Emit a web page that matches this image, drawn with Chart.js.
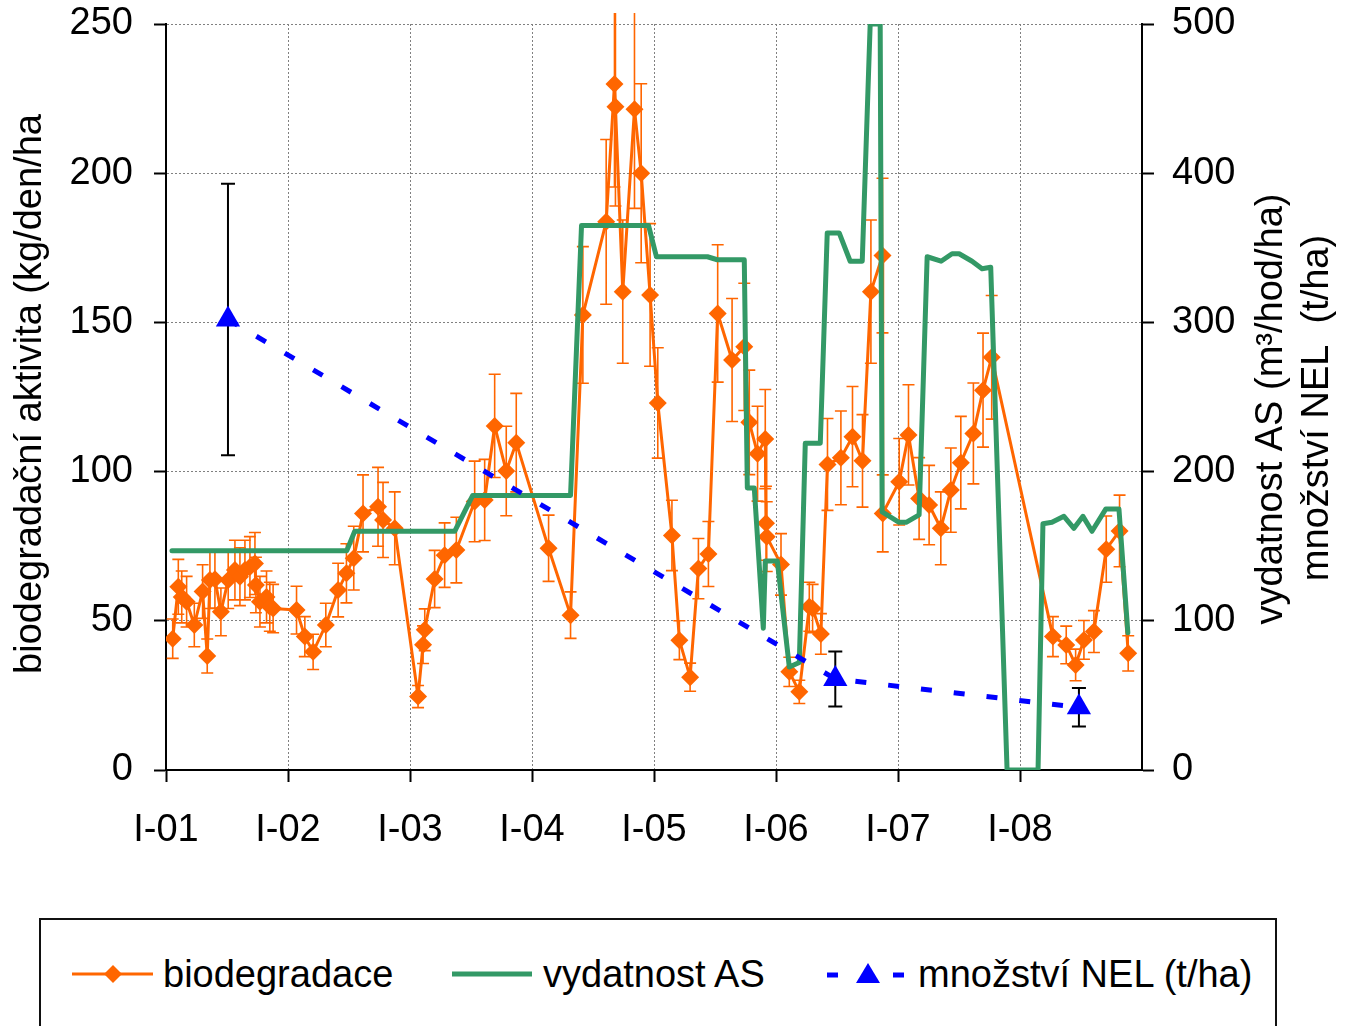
<!DOCTYPE html>
<html>
<head>
<meta charset="utf-8">
<script src="https://cdn.jsdelivr.net/npm/chart.js@4.4.1/dist/chart.umd.min.js"></script>
<style>
  html, body { margin: 0; padding: 0; background: #fff; overflow: hidden; }
  #wrap { position: relative; width: 1345px; height: 1026px; }
  #c { position: absolute; left: 0; top: 0; }
  .lg { position: absolute; font-family: "Liberation Sans", Arial, sans-serif; font-size: 38px; line-height: 38px; color: #000; white-space: pre; }
  #lgbox { position: absolute; left: 39px; top: 918px; width: 1238px; height: 160px; border: 2px solid #111; box-sizing: border-box; }
  #lgsvg { position: absolute; left: 0; top: 918px; }
</style>
</head>
<body>
<div id="wrap">
  <canvas id="c" width="1345" height="900"></canvas>
  <div id="lgbox"></div>
  <svg id="lgsvg" width="1345" height="108" xmlns="http://www.w3.org/2000/svg">
    <line x1="72" y1="56" x2="153" y2="56" stroke="#FF6600" stroke-width="3"/>
    <polygon points="113,47 122,56 113,65 104,56" fill="#FF6600"/>
    <line x1="452" y1="56" x2="532" y2="56" stroke="#339966" stroke-width="5"/>
    <line x1="827" y1="57" x2="838" y2="57" stroke="#0000FF" stroke-width="5"/>
    <line x1="893" y1="57" x2="904" y2="57" stroke="#0000FF" stroke-width="5"/>
    <polygon points="868,45 880,65 856,65" fill="#0000FF"/>
  </svg>
  <div class="lg" style="left:163px;top:955px;">biodegradace</div>
  <div class="lg" style="left:543px;top:955px;">vydatnost AS</div>
  <div class="lg" style="left:918px;top:955px;">množství NEL (t/ha)</div>
</div>
<script>
// ---- data (x in decimal years) ----
const yearTicks = [2001, 2002, 2003, 2004, 2005, 2006, 2007, 2008];
const tickLabels = ['I-01', 'I-02', 'I-03', 'I-04', 'I-05', 'I-06', 'I-07', 'I-08'];

const bioX = [2001.055, 2001.101, 2001.129, 2001.169, 2001.232, 2001.300, 2001.338, 2001.360, 2001.401, 2001.450,
  2001.510, 2001.565, 2001.606, 2001.647, 2001.688, 2001.729, 2001.737, 2001.770, 2001.824, 2001.851,
  2001.878, 2002.070, 2002.138, 2002.206, 2002.310, 2002.411, 2002.479, 2002.539, 2002.615, 2002.738,
  2002.779, 2002.875, 2003.066, 2003.107, 2003.121, 2003.202, 2003.284, 2003.380, 2003.530, 2003.612,
  2003.694, 2003.789, 2003.871, 2004.136, 2004.316, 2004.417, 2004.608, 2004.676, 2004.684, 2004.744,
  2004.840, 2004.895, 2004.968, 2005.031, 2005.147, 2005.208, 2005.296, 2005.364, 2005.446, 2005.522,
  2005.640, 2005.740, 2005.781, 2005.849, 2005.912, 2005.918, 2005.924, 2006.041, 2006.109, 2006.191,
  2006.273, 2006.300, 2006.368, 2006.422, 2006.532, 2006.627, 2006.709, 2006.778, 2006.873, 2006.875,
  2007.010, 2007.086, 2007.173, 2007.255, 2007.351, 2007.433, 2007.515, 2007.618, 2007.697, 2007.768,
  2008.270, 2008.379, 2008.456, 2008.524, 2008.606, 2008.707, 2008.816, 2008.887];
const bioY = [44.0, 61.4, 58.0, 56.4, 48.6, 59.8, 38.2, 63.7, 63.9, 53.0,
  63.7, 67.0, 64.8, 67.0, 68.0, 69.2, 62.0, 56.4, 58.0, 54.7,
  54.1, 53.6, 44.7, 39.6, 48.6, 60.3, 65.9, 71.0, 86.0, 88.2,
  83.8, 81.0, 24.6, 42.0, 47.0, 64.0, 72.0, 73.7, 90.0, 90.5,
  115.3, 100.2, 109.7, 74.3, 51.9, 152.5, 183.7, 229.9, 222.3, 160.3,
  221.4, 200.0, 159.2, 123.0, 78.6, 43.5, 31.1, 67.5, 72.4, 153.0,
  137.4, 141.8, 116.5, 106.0, 110.9, 82.7, 78.2, 68.9, 32.9, 26.2,
  54.7, 54.1, 45.6, 102.4, 104.6, 111.7, 103.6, 160.3, 172.4, 86.0,
  96.6, 112.3, 91.0, 88.8, 81.0, 93.8, 103.0, 112.8, 127.3, 138.3,
  44.7, 41.9, 35.2, 43.6, 46.4, 74.0, 80.1, 39.1];
const bioErr = [6.6, 9.2, 8.7, 8.5, 7.3, 9.0, 5.7, 9.6, 9.6, 8.0,
  9.6, 10.0, 9.7, 10.0, 10.2, 10.4, 9.3, 8.5, 8.7, 8.2,
  8.1, 8.0, 6.7, 5.9, 7.3, 9.0, 9.9, 10.7, 12.9, 13.2,
  12.6, 12.2, 3.7, 6.3, 7.0, 9.6, 10.8, 11.0, 13.5, 13.6,
  17.3, 15.0, 16.5, 11.1, 7.8, 22.9, 27.6, 34.5, 33.3, 24.0,
  33.2, 30.0, 23.9, 18.5, 11.8, 6.5, 4.7, 10.1, 10.9, 23.0,
  20.6, 21.3, 17.5, 15.9, 16.6, 12.4, 11.7, 10.3, 4.9, 3.9,
  8.2, 8.1, 6.8, 15.4, 15.7, 16.8, 15.5, 24.0, 25.9, 12.9,
  14.5, 16.8, 13.7, 13.3, 12.2, 14.1, 15.5, 16.9, 19.1, 20.7,
  6.7, 6.3, 5.3, 6.5, 7.0, 11.1, 12.0, 5.9];

const asX = [2001.049, 2002.482, 2002.547, 2003.366, 2003.514, 2004.316, 2004.406, 2004.955, 2005.020, 2005.438,
  2005.519, 2005.740, 2005.765, 2005.822, 2005.896, 2005.912, 2006.011, 2006.109, 2006.191, 2006.240,
  2006.363, 2006.420, 2006.518, 2006.608, 2006.707, 2006.772, 2006.854, 2006.870, 2007.009, 2007.067,
  2007.173, 2007.239, 2007.353, 2007.443, 2007.501, 2007.607, 2007.689, 2007.760, 2007.894, 2008.148,
  2008.188, 2008.262, 2008.360, 2008.442, 2008.516, 2008.590, 2008.704, 2008.811, 2008.884];
const asY = [147, 147, 160, 160, 184, 184, 365, 365, 344, 344,
  342, 342, 189, 189, 95, 140, 140, 69, 72, 219,
  219, 360, 360, 341, 341, 500, 500, 173, 166, 166,
  171, 344, 341, 346, 346, 341, 336, 337, 0, 0,
  165, 166, 170, 162, 170, 160, 175, 175, 92];

const nelX = [2001.508, 2006.486, 2008.483];
const nelY = [302, 61, 42];
const nelErr = [91, 18.4, 12.9];

const leftTitle = 'biodegradační aktivita (kg/den/ha';
const rightTitle1 = 'vydatnost AS (m³/hod/ha)';
const rightTitle2 = 'množství NEL  (t/ha)';

// ---- helpers ----
const FONT = "'Liberation Sans', Arial, Helvetica, sans-serif";
const pts = (xs, ys) => xs.map((x, i) => ({ x: x, y: ys[i] }));

const errorBars = {
  id: 'errorBars',
  beforeDatasetDraw(chart, args) {
    const ctx = chart.ctx, xs = chart.scales.x, ca = chart.chartArea;
    let set = null;
    if (args.index === 0) set = { xv: bioX, yv: bioY, ev: bioErr, sc: chart.scales.y, color: '#FF6600', w: 1.6, cap: 6 };
    if (args.index === 2) set = { xv: nelX, yv: nelY, ev: nelErr, sc: chart.scales.y1, color: '#000000', w: 2, cap: 7 };
    if (!set) return;
    ctx.save();
    ctx.beginPath();
    ctx.rect(ca.left - 20, ca.top - 11, ca.right - ca.left + 40, ca.bottom - ca.top + 31);
    ctx.clip();
    ctx.strokeStyle = set.color;
    ctx.lineWidth = set.w;
    ctx.beginPath();
    for (let i = 0; i < set.xv.length; i++) {
      const px = xs.getPixelForValue(set.xv[i]);
      const pHi = set.sc.getPixelForValue(set.yv[i] + set.ev[i]);
      const pLo = set.sc.getPixelForValue(set.yv[i] - set.ev[i]);
      ctx.moveTo(px, pHi); ctx.lineTo(px, pLo);
      ctx.moveTo(px - set.cap, pHi); ctx.lineTo(px + set.cap, pHi);
      ctx.moveTo(px - set.cap, pLo); ctx.lineTo(px + set.cap, pLo);
    }
    ctx.stroke();
    ctx.restore();
  }
};

const axisTitles = {
  id: 'axisTitles',
  afterDraw(chart) {
    const ctx = chart.ctx;
    ctx.save();
    ctx.fillStyle = '#000';
    ctx.font = '38px ' + FONT;
    ctx.textAlign = 'center';
    ctx.textBaseline = 'alphabetic';
    const draw = (t, x, y) => { ctx.save(); ctx.translate(x, y); ctx.rotate(-Math.PI / 2); ctx.fillText(t, 0, 0); ctx.restore(); };
    draw(leftTitle, 41, 394);
    draw(rightTitle1, 1282, 409);
    draw(rightTitle2, 1328, 408);
    ctx.restore();
  }
};

const tickFont = { family: FONT, size: 38 };
const noPad = (s) => { s.paddingTop = 0; s.paddingBottom = 0; s.paddingLeft = 0; s.paddingRight = 0; };

new Chart(document.getElementById('c'), {
  type: 'line',
  data: {
    datasets: [
      {
        label: 'biodegradace', data: pts(bioX, bioY), yAxisID: 'y', order: 3,
        borderColor: '#FF6600', backgroundColor: '#FF6600', borderWidth: 3,
        pointStyle: 'rectRot', pointRadius: 9, pointBorderWidth: 0,
        pointBackgroundColor: '#FF6600', borderJoinStyle: 'round', tension: 0, fill: false
      },
      {
        label: 'vydatnost AS', data: pts(asX, asY), yAxisID: 'y1', order: 2,
        borderColor: '#339966', backgroundColor: '#339966', borderWidth: 5,
        pointRadius: 0, borderJoinStyle: 'round', borderCapStyle: 'round', tension: 0, fill: false
      },
      {
        label: 'množství NEL (t/ha)', data: pts(nelX, nelY), yAxisID: 'y1', order: 1,
        borderColor: '#0000FF', backgroundColor: '#0000FF', borderWidth: 5, borderDash: [11, 22],
        pointStyle: 'triangle', pointRadius: 14, pointBorderWidth: 0,
        pointBackgroundColor: '#0000FF', tension: 0, fill: false
      }
    ]
  },
  options: {
    responsive: false,
    devicePixelRatio: 1,
    animation: false,
    events: [],
    layout: { padding: { top: 24, left: 0, right: 0, bottom: 0 } },
    plugins: { legend: { display: false }, tooltip: { enabled: false }, title: { display: false } },
    scales: {
      x: {
        type: 'linear', min: 2001, max: 2009,
        afterBuildTicks: (s) => { s.ticks = yearTicks.map(v => ({ value: v })); },
        afterFit: (s) => { s.height = 130; noPad(s); },
        ticks: {
          autoSkip: false, maxRotation: 0, minRotation: 0, color: '#000', font: tickFont, padding: 26,
          callback: (v, i) => tickLabels[i]
        },
        grid: { color: '#808080', lineWidth: 1, tickColor: '#000', tickWidth: 2, tickLength: 12, tickBorderDash: [] },
        border: { display: true, color: '#000', width: 2, dash: [2, 2] }
      },
      y: {
        position: 'left', min: 0, max: 250,
        afterFit: (s) => { s.width = 166; noPad(s); },
        ticks: { stepSize: 50, color: '#000', font: tickFont, padding: 21 },
        grid: { color: '#808080', lineWidth: 1, tickColor: '#000', tickWidth: 2, tickLength: 12, tickBorderDash: [] },
        border: { display: true, color: '#000', width: 2, dash: [2, 2] }
      },
      y1: {
        position: 'right', min: 0, max: 500,
        afterFit: (s) => { s.width = 203; noPad(s); },
        ticks: { stepSize: 100, color: '#000', font: tickFont, padding: 18 },
        grid: { drawOnChartArea: false, color: '#000', tickColor: '#000', tickWidth: 2, tickLength: 12, tickBorderDash: [] },
        border: { display: true, color: '#000', width: 2 }
      }
    }
  },
  plugins: [errorBars, axisTitles]
});
</script>
</body>
</html>
